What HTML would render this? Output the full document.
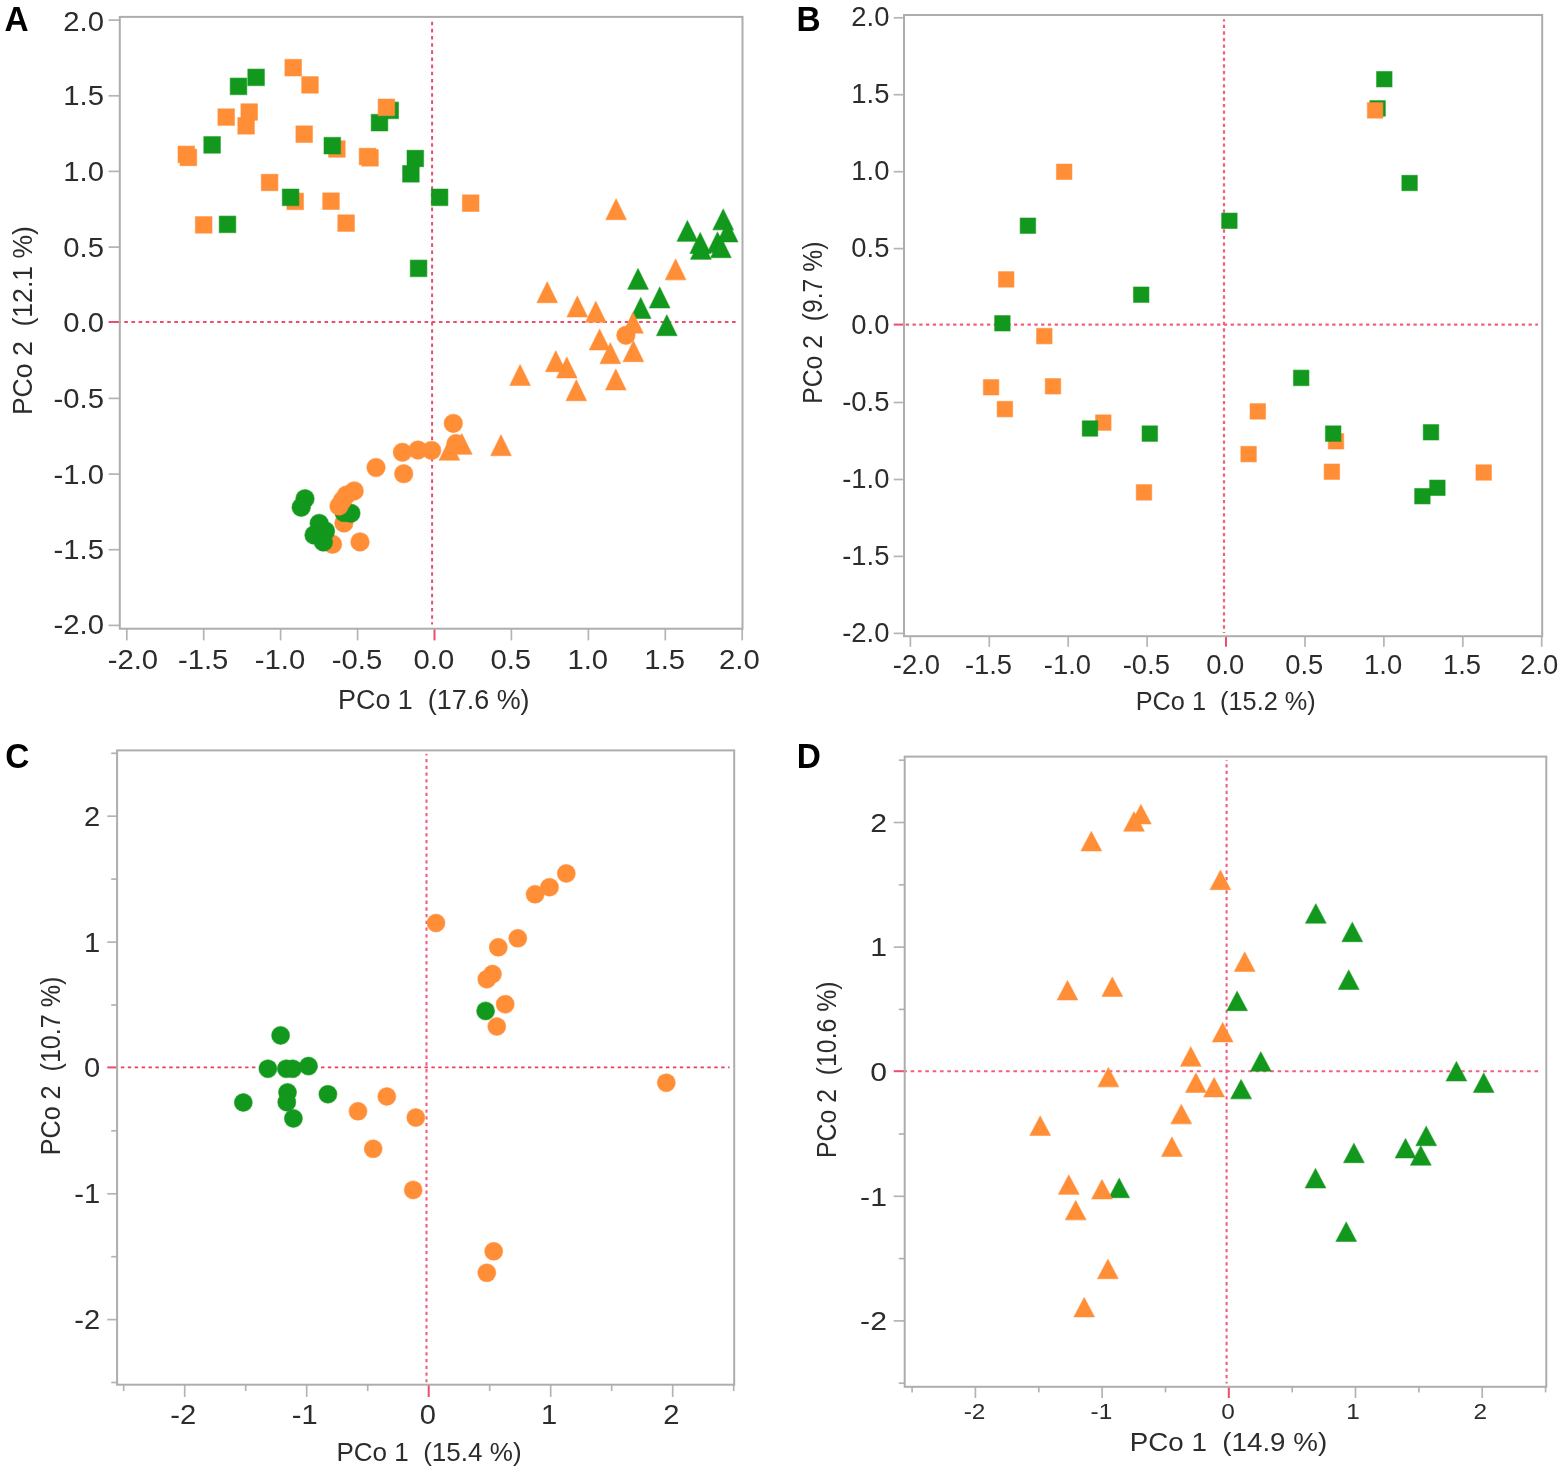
<!DOCTYPE html>
<html lang="en">
<head>
<meta charset="utf-8">
<title>PCoA ordination plots</title>
<style>
html,body{margin:0;padding:0;background:#fff;}
body{width:1566px;height:1479px;overflow:hidden;}
svg{display:block;font-family:"Liberation Sans", Arial, sans-serif;}
</style>
</head>
<body>
<svg width="1566" height="1479" viewBox="0 0 1566 1479">
<rect x="0" y="0" width="1566" height="1479" fill="#ffffff"/>
<g>
<line x1="432.1" y1="21.7" x2="432.1" y2="624.5" stroke="#ee4c6c" stroke-width="2.0" stroke-dasharray="3.6 3.55" stroke-dashoffset="0"/>
<line x1="119.6" y1="322.0" x2="737.8" y2="322.0" stroke="#ee4c6c" stroke-width="1.8" stroke-dasharray="3.6 3.55" stroke-dashoffset="2.45"/>
<line x1="108.6" y1="20.1" x2="119.8" y2="20.1" stroke="#b4b4b4" stroke-width="1.7"/>
<line x1="108.6" y1="95.8" x2="119.8" y2="95.8" stroke="#b4b4b4" stroke-width="1.7"/>
<line x1="108.6" y1="171.4" x2="119.8" y2="171.4" stroke="#b4b4b4" stroke-width="1.7"/>
<line x1="108.6" y1="247.1" x2="119.8" y2="247.1" stroke="#b4b4b4" stroke-width="1.7"/>
<line x1="108.6" y1="322.0" x2="119.8" y2="322.0" stroke="#ee4c6c" stroke-width="2.0"/>
<line x1="108.6" y1="398.4" x2="119.8" y2="398.4" stroke="#b4b4b4" stroke-width="1.7"/>
<line x1="108.6" y1="474.1" x2="119.8" y2="474.1" stroke="#b4b4b4" stroke-width="1.7"/>
<line x1="108.6" y1="549.7" x2="119.8" y2="549.7" stroke="#b4b4b4" stroke-width="1.7"/>
<line x1="108.6" y1="625.4" x2="119.8" y2="625.4" stroke="#b4b4b4" stroke-width="1.7"/>
<line x1="742.2" y1="628.7" x2="742.2" y2="640.4" stroke="#b4b4b4" stroke-width="1.7"/>
<line x1="665.3" y1="628.7" x2="665.3" y2="640.4" stroke="#b4b4b4" stroke-width="1.7"/>
<line x1="588.4" y1="628.7" x2="588.4" y2="640.4" stroke="#b4b4b4" stroke-width="1.7"/>
<line x1="511.4" y1="628.7" x2="511.4" y2="640.4" stroke="#b4b4b4" stroke-width="1.7"/>
<line x1="434.5" y1="628.7" x2="434.5" y2="640.4" stroke="#ee4c6c" stroke-width="2.0"/>
<line x1="357.6" y1="628.7" x2="357.6" y2="640.4" stroke="#b4b4b4" stroke-width="1.7"/>
<line x1="280.6" y1="628.7" x2="280.6" y2="640.4" stroke="#b4b4b4" stroke-width="1.7"/>
<line x1="203.7" y1="628.7" x2="203.7" y2="640.4" stroke="#b4b4b4" stroke-width="1.7"/>
<line x1="126.8" y1="628.7" x2="126.8" y2="640.4" stroke="#b4b4b4" stroke-width="1.7"/>
<rect x="119.8" y="16.9" width="622.7" height="611.8" fill="none" stroke="#adadad" stroke-width="2.0"/>
<g stroke-width="1.1" stroke-opacity="0.5" stroke-linejoin="round">
<rect x="328.60" y="140.70" width="16.60" height="16.60" fill="#FF8E37" stroke="#FF8E37"/>
<rect x="286.90" y="193.10" width="16.60" height="16.60" fill="#FF8E37" stroke="#FF8E37"/>
<rect x="284.90" y="59.40" width="16.60" height="16.60" fill="#FF8E37" stroke="#FF8E37"/>
<rect x="301.70" y="76.60" width="16.60" height="16.60" fill="#FF8E37" stroke="#FF8E37"/>
<rect x="217.90" y="108.80" width="16.60" height="16.60" fill="#FF8E37" stroke="#FF8E37"/>
<rect x="240.90" y="103.70" width="16.60" height="16.60" fill="#FF8E37" stroke="#FF8E37"/>
<rect x="237.80" y="117.50" width="16.60" height="16.60" fill="#FF8E37" stroke="#FF8E37"/>
<rect x="295.90" y="125.90" width="16.60" height="16.60" fill="#FF8E37" stroke="#FF8E37"/>
<rect x="178.00" y="146.10" width="16.60" height="16.60" fill="#FF8E37" stroke="#FF8E37"/>
<rect x="180.10" y="149.20" width="16.60" height="16.60" fill="#FF8E37" stroke="#FF8E37"/>
<rect x="359.20" y="148.20" width="16.60" height="16.60" fill="#FF8E37" stroke="#FF8E37"/>
<rect x="361.70" y="149.50" width="16.60" height="16.60" fill="#FF8E37" stroke="#FF8E37"/>
<rect x="261.30" y="174.20" width="16.60" height="16.60" fill="#FF8E37" stroke="#FF8E37"/>
<rect x="322.70" y="192.90" width="16.60" height="16.60" fill="#FF8E37" stroke="#FF8E37"/>
<rect x="195.40" y="216.60" width="16.60" height="16.60" fill="#FF8E37" stroke="#FF8E37"/>
<rect x="337.80" y="214.80" width="16.60" height="16.60" fill="#FF8E37" stroke="#FF8E37"/>
<rect x="462.40" y="194.90" width="16.60" height="16.60" fill="#FF8E37" stroke="#FF8E37"/>
<rect x="381.90" y="102.10" width="16.60" height="16.60" fill="#12981C" stroke="#12981C"/>
<rect x="371.20" y="114.40" width="16.60" height="16.60" fill="#12981C" stroke="#12981C"/>
<rect x="230.20" y="78.10" width="16.60" height="16.60" fill="#12981C" stroke="#12981C"/>
<rect x="247.80" y="69.10" width="16.60" height="16.60" fill="#12981C" stroke="#12981C"/>
<rect x="203.80" y="136.60" width="16.60" height="16.60" fill="#12981C" stroke="#12981C"/>
<rect x="324.00" y="137.40" width="16.60" height="16.60" fill="#12981C" stroke="#12981C"/>
<rect x="282.30" y="189.00" width="16.60" height="16.60" fill="#12981C" stroke="#12981C"/>
<rect x="219.20" y="216.10" width="16.60" height="16.60" fill="#12981C" stroke="#12981C"/>
<rect x="407.00" y="150.20" width="16.60" height="16.60" fill="#12981C" stroke="#12981C"/>
<rect x="402.60" y="165.50" width="16.60" height="16.60" fill="#12981C" stroke="#12981C"/>
<rect x="431.30" y="189.00" width="16.60" height="16.60" fill="#12981C" stroke="#12981C"/>
<rect x="410.30" y="260.10" width="16.60" height="16.60" fill="#12981C" stroke="#12981C"/>
<rect x="378.10" y="99.00" width="16.60" height="16.60" fill="#FF8E37" stroke="#FF8E37"/>
<path d="M640.7 297.5L651.00 318.45L630.40 318.45Z" fill="#12981C" stroke="#12981C"/>
<path d="M723.2 208.9L733.50 229.85L712.90 229.85Z" fill="#12981C" stroke="#12981C"/>
<path d="M687.4 220.4L697.70 241.35L677.10 241.35Z" fill="#12981C" stroke="#12981C"/>
<path d="M727.7 221.1L738.00 242.05L717.40 242.05Z" fill="#12981C" stroke="#12981C"/>
<path d="M700.2 232.6L710.50 253.55L689.90 253.55Z" fill="#12981C" stroke="#12981C"/>
<path d="M700.9 238.4L711.20 259.35L690.60 259.35Z" fill="#12981C" stroke="#12981C"/>
<path d="M717.5 231.9L727.80 252.85L707.20 252.85Z" fill="#12981C" stroke="#12981C"/>
<path d="M720.9 236.8L731.20 257.75L710.60 257.75Z" fill="#12981C" stroke="#12981C"/>
<path d="M638.0 268.4L648.30 289.35L627.70 289.35Z" fill="#12981C" stroke="#12981C"/>
<path d="M659.7 287.1L670.00 308.05L649.40 308.05Z" fill="#12981C" stroke="#12981C"/>
<path d="M666.8 314.8L677.10 335.75L656.50 335.75Z" fill="#12981C" stroke="#12981C"/>
<path d="M616.1 198.8L626.40 219.75L605.80 219.75Z" fill="#FF8E37" stroke="#FF8E37"/>
<path d="M675.6 258.9L685.90 279.85L665.30 279.85Z" fill="#FF8E37" stroke="#FF8E37"/>
<path d="M547.2 281.7L557.50 302.65L536.90 302.65Z" fill="#FF8E37" stroke="#FF8E37"/>
<path d="M577.3 296.1L587.60 317.05L567.00 317.05Z" fill="#FF8E37" stroke="#FF8E37"/>
<path d="M595.8 301.3L606.10 322.25L585.50 322.25Z" fill="#FF8E37" stroke="#FF8E37"/>
<path d="M633.0 312.3L643.30 333.25L622.70 333.25Z" fill="#FF8E37" stroke="#FF8E37"/>
<path d="M599.6 329.0L609.90 349.95L589.30 349.95Z" fill="#FF8E37" stroke="#FF8E37"/>
<path d="M610.3 342.8L620.60 363.75L600.00 363.75Z" fill="#FF8E37" stroke="#FF8E37"/>
<path d="M633.4 340.7L643.70 361.65L623.10 361.65Z" fill="#FF8E37" stroke="#FF8E37"/>
<path d="M555.8 350.7L566.10 371.65L545.50 371.65Z" fill="#FF8E37" stroke="#FF8E37"/>
<path d="M566.8 357.0L577.10 377.95L556.50 377.95Z" fill="#FF8E37" stroke="#FF8E37"/>
<path d="M520.1 364.5L530.40 385.45L509.80 385.45Z" fill="#FF8E37" stroke="#FF8E37"/>
<path d="M615.8 369.1L626.10 390.05L605.50 390.05Z" fill="#FF8E37" stroke="#FF8E37"/>
<path d="M576.3 379.7L586.60 400.65L566.00 400.65Z" fill="#FF8E37" stroke="#FF8E37"/>
<path d="M461.8 433.4L472.10 454.35L451.50 454.35Z" fill="#FF8E37" stroke="#FF8E37"/>
<path d="M449.4 439.2L459.70 460.15L439.10 460.15Z" fill="#FF8E37" stroke="#FF8E37"/>
<path d="M501.0 434.8L511.30 455.75L490.70 455.75Z" fill="#FF8E37" stroke="#FF8E37"/>
<circle cx="343.9" cy="523.0" r="9.25" fill="#FF8E37" stroke="#FF8E37"/>
<circle cx="332.5" cy="544.2" r="9.25" fill="#FF8E37" stroke="#FF8E37"/>
<circle cx="456.0" cy="443.6" r="9.25" fill="#FF8E37" stroke="#FF8E37"/>
<circle cx="305.0" cy="498.7" r="9.25" fill="#12981C" stroke="#12981C"/>
<circle cx="301.2" cy="507.2" r="9.25" fill="#12981C" stroke="#12981C"/>
<circle cx="350.9" cy="513.2" r="9.25" fill="#12981C" stroke="#12981C"/>
<circle cx="344.0" cy="512.5" r="9.25" fill="#12981C" stroke="#12981C"/>
<circle cx="319.2" cy="523.4" r="9.25" fill="#12981C" stroke="#12981C"/>
<circle cx="325.5" cy="531.0" r="9.25" fill="#12981C" stroke="#12981C"/>
<circle cx="314.0" cy="535.0" r="9.25" fill="#12981C" stroke="#12981C"/>
<circle cx="323.4" cy="542.0" r="9.25" fill="#12981C" stroke="#12981C"/>
<circle cx="625.9" cy="335.2" r="9.25" fill="#FF8E37" stroke="#FF8E37"/>
<circle cx="453.3" cy="423.4" r="9.25" fill="#FF8E37" stroke="#FF8E37"/>
<circle cx="402.4" cy="452.3" r="9.25" fill="#FF8E37" stroke="#FF8E37"/>
<circle cx="418.0" cy="450.0" r="9.25" fill="#FF8E37" stroke="#FF8E37"/>
<circle cx="431.6" cy="450.4" r="9.25" fill="#FF8E37" stroke="#FF8E37"/>
<circle cx="376.0" cy="467.5" r="9.25" fill="#FF8E37" stroke="#FF8E37"/>
<circle cx="403.7" cy="473.7" r="9.25" fill="#FF8E37" stroke="#FF8E37"/>
<circle cx="354.2" cy="490.9" r="9.25" fill="#FF8E37" stroke="#FF8E37"/>
<circle cx="346.4" cy="495.1" r="9.25" fill="#FF8E37" stroke="#FF8E37"/>
<circle cx="342.6" cy="500.3" r="9.25" fill="#FF8E37" stroke="#FF8E37"/>
<circle cx="339.0" cy="506.0" r="9.25" fill="#FF8E37" stroke="#FF8E37"/>
<circle cx="360.0" cy="541.9" r="9.25" fill="#FF8E37" stroke="#FF8E37"/>
</g>
<text transform="translate(104.0 30.6) scale(1.035 1)" x="0" y="0" font-size="28.3" text-anchor="end" fill="#2c2c2c" xml:space="preserve">2.0</text>
<text transform="translate(104.0 105.3) scale(1.035 1)" x="0" y="0" font-size="28.3" text-anchor="end" fill="#2c2c2c" xml:space="preserve">1.5</text>
<text transform="translate(104.0 180.9) scale(1.035 1)" x="0" y="0" font-size="28.3" text-anchor="end" fill="#2c2c2c" xml:space="preserve">1.0</text>
<text transform="translate(104.0 256.6) scale(1.035 1)" x="0" y="0" font-size="28.3" text-anchor="end" fill="#2c2c2c" xml:space="preserve">0.5</text>
<text transform="translate(104.0 332.2) scale(1.035 1)" x="0" y="0" font-size="28.3" text-anchor="end" fill="#2c2c2c" xml:space="preserve">0.0</text>
<text transform="translate(104.0 407.9) scale(1.035 1)" x="0" y="0" font-size="28.3" text-anchor="end" fill="#2c2c2c" xml:space="preserve">-0.5</text>
<text transform="translate(104.0 483.6) scale(1.035 1)" x="0" y="0" font-size="28.3" text-anchor="end" fill="#2c2c2c" xml:space="preserve">-1.0</text>
<text transform="translate(104.0 559.2) scale(1.035 1)" x="0" y="0" font-size="28.3" text-anchor="end" fill="#2c2c2c" xml:space="preserve">-1.5</text>
<text transform="translate(104.0 633.6) scale(1.035 1)" x="0" y="0" font-size="28.3" text-anchor="end" fill="#2c2c2c" xml:space="preserve">-2.0</text>
<text transform="translate(739.4 669.3) scale(1.035 1)" x="0" y="0" font-size="28.3" text-anchor="middle" fill="#2c2c2c" xml:space="preserve">2.0</text>
<text transform="translate(664.7 669.3) scale(1.035 1)" x="0" y="0" font-size="28.3" text-anchor="middle" fill="#2c2c2c" xml:space="preserve">1.5</text>
<text transform="translate(587.8 669.3) scale(1.035 1)" x="0" y="0" font-size="28.3" text-anchor="middle" fill="#2c2c2c" xml:space="preserve">1.0</text>
<text transform="translate(510.8 669.3) scale(1.035 1)" x="0" y="0" font-size="28.3" text-anchor="middle" fill="#2c2c2c" xml:space="preserve">0.5</text>
<text transform="translate(433.9 669.3) scale(1.035 1)" x="0" y="0" font-size="28.3" text-anchor="middle" fill="#2c2c2c" xml:space="preserve">0.0</text>
<text transform="translate(357.0 669.3) scale(1.035 1)" x="0" y="0" font-size="28.3" text-anchor="middle" fill="#2c2c2c" xml:space="preserve">-0.5</text>
<text transform="translate(280.0 669.3) scale(1.035 1)" x="0" y="0" font-size="28.3" text-anchor="middle" fill="#2c2c2c" xml:space="preserve">-1.0</text>
<text transform="translate(203.1 669.3) scale(1.035 1)" x="0" y="0" font-size="28.3" text-anchor="middle" fill="#2c2c2c" xml:space="preserve">-1.5</text>
<text transform="translate(132.9 669.3) scale(1.035 1)" x="0" y="0" font-size="28.3" text-anchor="middle" fill="#2c2c2c" xml:space="preserve">-2.0</text>
<text x="433.8" y="708.9" font-size="27" text-anchor="middle" fill="#2c2c2c" textLength="191.6" lengthAdjust="spacingAndGlyphs" xml:space="preserve">PCo 1  (17.6 %)</text>
<text x="32.0" y="320.6" font-size="28.5" text-anchor="middle" fill="#2c2c2c" textLength="189.0" lengthAdjust="spacingAndGlyphs" transform="rotate(-90 32.0 320.6)" xml:space="preserve">PCo 2  (12.1 %)</text>
</g>
<text transform="translate(4.4 30.9) scale(1 1.05)" x="0" y="0" font-size="33.4" text-anchor="start" fill="#000" font-weight="bold" xml:space="preserve">A</text>
<g>
<line x1="1224.0" y1="19.2" x2="1224.0" y2="633.0" stroke="#f0607f" stroke-width="2.2" stroke-dasharray="3.3 3.3" stroke-dashoffset="1.05"/>
<line x1="903.7" y1="324.6" x2="1537.9" y2="324.6" stroke="#f0607f" stroke-width="2.2" stroke-dasharray="3.3 3.47" stroke-dashoffset="4.77"/>
<line x1="893.7" y1="17.8" x2="904.0" y2="17.8" stroke="#b4b4b4" stroke-width="1.7"/>
<line x1="893.7" y1="94.7" x2="904.0" y2="94.7" stroke="#b4b4b4" stroke-width="1.7"/>
<line x1="893.7" y1="171.7" x2="904.0" y2="171.7" stroke="#b4b4b4" stroke-width="1.7"/>
<line x1="893.7" y1="248.6" x2="904.0" y2="248.6" stroke="#b4b4b4" stroke-width="1.7"/>
<line x1="893.7" y1="324.6" x2="904.0" y2="324.6" stroke="#ee4c6c" stroke-width="2.0"/>
<line x1="893.7" y1="402.5" x2="904.0" y2="402.5" stroke="#b4b4b4" stroke-width="1.7"/>
<line x1="893.7" y1="479.5" x2="904.0" y2="479.5" stroke="#b4b4b4" stroke-width="1.7"/>
<line x1="893.7" y1="556.4" x2="904.0" y2="556.4" stroke="#b4b4b4" stroke-width="1.7"/>
<line x1="893.7" y1="633.4" x2="904.0" y2="633.4" stroke="#b4b4b4" stroke-width="1.7"/>
<line x1="1541.7" y1="636.2" x2="1541.7" y2="646.8" stroke="#b4b4b4" stroke-width="1.7"/>
<line x1="1462.8" y1="636.2" x2="1462.8" y2="646.8" stroke="#b4b4b4" stroke-width="1.7"/>
<line x1="1383.9" y1="636.2" x2="1383.9" y2="646.8" stroke="#b4b4b4" stroke-width="1.7"/>
<line x1="1305.0" y1="636.2" x2="1305.0" y2="646.8" stroke="#b4b4b4" stroke-width="1.7"/>
<line x1="1226.0" y1="636.2" x2="1226.0" y2="646.8" stroke="#ee4c6c" stroke-width="2.0"/>
<line x1="1147.1" y1="636.2" x2="1147.1" y2="646.8" stroke="#b4b4b4" stroke-width="1.7"/>
<line x1="1068.2" y1="636.2" x2="1068.2" y2="646.8" stroke="#b4b4b4" stroke-width="1.7"/>
<line x1="989.3" y1="636.2" x2="989.3" y2="646.8" stroke="#b4b4b4" stroke-width="1.7"/>
<line x1="910.4" y1="636.2" x2="910.4" y2="646.8" stroke="#b4b4b4" stroke-width="1.7"/>
<rect x="904.0" y="15.0" width="638.2" height="621.2" fill="none" stroke="#adadad" stroke-width="2.0"/>
<g stroke-width="1.1" stroke-opacity="0.5" stroke-linejoin="round">
<rect x="1369.85" y="100.65" width="15.50" height="15.50" fill="#12981C" stroke="#12981C"/>
<rect x="1056.45" y="164.05" width="15.50" height="15.50" fill="#FF8E37" stroke="#FF8E37"/>
<rect x="998.45" y="271.65" width="15.50" height="15.50" fill="#FF8E37" stroke="#FF8E37"/>
<rect x="1036.55" y="328.35" width="15.50" height="15.50" fill="#FF8E37" stroke="#FF8E37"/>
<rect x="1367.35" y="102.65" width="15.50" height="15.50" fill="#FF8E37" stroke="#FF8E37"/>
<rect x="983.35" y="379.55" width="15.50" height="15.50" fill="#FF8E37" stroke="#FF8E37"/>
<rect x="997.15" y="401.35" width="15.50" height="15.50" fill="#FF8E37" stroke="#FF8E37"/>
<rect x="1045.25" y="378.55" width="15.50" height="15.50" fill="#FF8E37" stroke="#FF8E37"/>
<rect x="1095.55" y="414.85" width="15.50" height="15.50" fill="#FF8E37" stroke="#FF8E37"/>
<rect x="1136.25" y="484.65" width="15.50" height="15.50" fill="#FF8E37" stroke="#FF8E37"/>
<rect x="1250.05" y="403.65" width="15.50" height="15.50" fill="#FF8E37" stroke="#FF8E37"/>
<rect x="1328.25" y="433.55" width="15.50" height="15.50" fill="#FF8E37" stroke="#FF8E37"/>
<rect x="1240.85" y="446.35" width="15.50" height="15.50" fill="#FF8E37" stroke="#FF8E37"/>
<rect x="1324.15" y="463.95" width="15.50" height="15.50" fill="#FF8E37" stroke="#FF8E37"/>
<rect x="1475.95" y="464.75" width="15.50" height="15.50" fill="#FF8E37" stroke="#FF8E37"/>
<rect x="1020.15" y="217.95" width="15.50" height="15.50" fill="#12981C" stroke="#12981C"/>
<rect x="1133.45" y="286.95" width="15.50" height="15.50" fill="#12981C" stroke="#12981C"/>
<rect x="994.65" y="315.55" width="15.50" height="15.50" fill="#12981C" stroke="#12981C"/>
<rect x="1376.55" y="71.45" width="15.50" height="15.50" fill="#12981C" stroke="#12981C"/>
<rect x="1401.85" y="175.25" width="15.50" height="15.50" fill="#12981C" stroke="#12981C"/>
<rect x="1221.65" y="213.05" width="15.50" height="15.50" fill="#12981C" stroke="#12981C"/>
<rect x="1082.25" y="420.75" width="15.50" height="15.50" fill="#12981C" stroke="#12981C"/>
<rect x="1142.05" y="425.85" width="15.50" height="15.50" fill="#12981C" stroke="#12981C"/>
<rect x="1293.45" y="370.15" width="15.50" height="15.50" fill="#12981C" stroke="#12981C"/>
<rect x="1325.45" y="425.85" width="15.50" height="15.50" fill="#12981C" stroke="#12981C"/>
<rect x="1423.25" y="424.55" width="15.50" height="15.50" fill="#12981C" stroke="#12981C"/>
<rect x="1429.65" y="480.05" width="15.50" height="15.50" fill="#12981C" stroke="#12981C"/>
<rect x="1414.65" y="488.45" width="15.50" height="15.50" fill="#12981C" stroke="#12981C"/>
</g>
<text x="889.4" y="26.4" font-size="27.4" text-anchor="end" fill="#2c2c2c" xml:space="preserve">2.0</text>
<text x="889.4" y="103.3" font-size="27.4" text-anchor="end" fill="#2c2c2c" xml:space="preserve">1.5</text>
<text x="889.4" y="180.2" font-size="27.4" text-anchor="end" fill="#2c2c2c" xml:space="preserve">1.0</text>
<text x="889.4" y="257.2" font-size="27.4" text-anchor="end" fill="#2c2c2c" xml:space="preserve">0.5</text>
<text x="889.4" y="334.2" font-size="27.4" text-anchor="end" fill="#2c2c2c" xml:space="preserve">0.0</text>
<text x="889.4" y="411.1" font-size="27.4" text-anchor="end" fill="#2c2c2c" xml:space="preserve">-0.5</text>
<text x="889.4" y="488.1" font-size="27.4" text-anchor="end" fill="#2c2c2c" xml:space="preserve">-1.0</text>
<text x="889.4" y="565.0" font-size="27.4" text-anchor="end" fill="#2c2c2c" xml:space="preserve">-1.5</text>
<text x="889.4" y="642.0" font-size="27.4" text-anchor="end" fill="#2c2c2c" xml:space="preserve">-2.0</text>
<text x="1539.3" y="674.3" font-size="27.4" text-anchor="middle" fill="#2c2c2c" xml:space="preserve">2.0</text>
<text x="1462.0" y="674.3" font-size="27.4" text-anchor="middle" fill="#2c2c2c" xml:space="preserve">1.5</text>
<text x="1383.1" y="674.3" font-size="27.4" text-anchor="middle" fill="#2c2c2c" xml:space="preserve">1.0</text>
<text x="1304.2" y="674.3" font-size="27.4" text-anchor="middle" fill="#2c2c2c" xml:space="preserve">0.5</text>
<text x="1225.2" y="674.3" font-size="27.4" text-anchor="middle" fill="#2c2c2c" xml:space="preserve">0.0</text>
<text x="1146.3" y="674.3" font-size="27.4" text-anchor="middle" fill="#2c2c2c" xml:space="preserve">-0.5</text>
<text x="1067.4" y="674.3" font-size="27.4" text-anchor="middle" fill="#2c2c2c" xml:space="preserve">-1.0</text>
<text x="988.5" y="674.3" font-size="27.4" text-anchor="middle" fill="#2c2c2c" xml:space="preserve">-1.5</text>
<text x="916.4" y="674.3" font-size="27.4" text-anchor="middle" fill="#2c2c2c" xml:space="preserve">-2.0</text>
<text x="1225.7" y="709.6" font-size="25" text-anchor="middle" fill="#2c2c2c" textLength="180.0" lengthAdjust="spacingAndGlyphs" xml:space="preserve">PCo 1  (15.2 %)</text>
<text x="822.2" y="322.7" font-size="28" text-anchor="middle" fill="#2c2c2c" textLength="162.2" lengthAdjust="spacingAndGlyphs" transform="rotate(-90 822.2 322.7)" xml:space="preserve">PCo 2  (9.7 %)</text>
</g>
<text transform="translate(796.5 30.9) scale(1 1.05)" x="0" y="0" font-size="33.4" text-anchor="start" fill="#000" font-weight="bold" xml:space="preserve">B</text>
<g>
<line x1="426.5" y1="753.8" x2="426.5" y2="1382.2" stroke="#f0607f" stroke-width="2.1" stroke-dasharray="3.3 3.44" stroke-dashoffset="1.49"/>
<line x1="117.1" y1="1067.4" x2="729.6" y2="1067.4" stroke="#ea3f5c" stroke-width="1.6" stroke-dasharray="3.4 3.5" stroke-dashoffset="3.1"/>
<line x1="111.2" y1="753.3" x2="117.1" y2="753.3" stroke="#b4b4b4" stroke-width="1.7"/>
<line x1="107.3" y1="816.2" x2="117.1" y2="816.2" stroke="#b4b4b4" stroke-width="1.7"/>
<line x1="111.2" y1="879.1" x2="117.1" y2="879.1" stroke="#b4b4b4" stroke-width="1.7"/>
<line x1="107.3" y1="942.1" x2="117.1" y2="942.1" stroke="#b4b4b4" stroke-width="1.7"/>
<line x1="111.2" y1="1005.0" x2="117.1" y2="1005.0" stroke="#b4b4b4" stroke-width="1.7"/>
<line x1="107.3" y1="1067.4" x2="117.1" y2="1067.4" stroke="#ee4c6c" stroke-width="2.0"/>
<line x1="111.2" y1="1130.8" x2="117.1" y2="1130.8" stroke="#b4b4b4" stroke-width="1.7"/>
<line x1="107.3" y1="1193.8" x2="117.1" y2="1193.8" stroke="#b4b4b4" stroke-width="1.7"/>
<line x1="111.2" y1="1256.7" x2="117.1" y2="1256.7" stroke="#b4b4b4" stroke-width="1.7"/>
<line x1="107.3" y1="1319.6" x2="117.1" y2="1319.6" stroke="#b4b4b4" stroke-width="1.7"/>
<line x1="111.2" y1="1382.5" x2="117.1" y2="1382.5" stroke="#b4b4b4" stroke-width="1.7"/>
<line x1="733.7" y1="1384.7" x2="733.7" y2="1391.1" stroke="#b4b4b4" stroke-width="1.7"/>
<line x1="672.7" y1="1384.7" x2="672.7" y2="1397.0" stroke="#b4b4b4" stroke-width="1.7"/>
<line x1="611.7" y1="1384.7" x2="611.7" y2="1391.1" stroke="#b4b4b4" stroke-width="1.7"/>
<line x1="550.7" y1="1384.7" x2="550.7" y2="1397.0" stroke="#b4b4b4" stroke-width="1.7"/>
<line x1="489.7" y1="1384.7" x2="489.7" y2="1391.1" stroke="#b4b4b4" stroke-width="1.7"/>
<line x1="428.7" y1="1384.7" x2="428.7" y2="1397.0" stroke="#ee4c6c" stroke-width="2.0"/>
<line x1="367.7" y1="1384.7" x2="367.7" y2="1391.1" stroke="#b4b4b4" stroke-width="1.7"/>
<line x1="306.7" y1="1384.7" x2="306.7" y2="1397.0" stroke="#b4b4b4" stroke-width="1.7"/>
<line x1="245.7" y1="1384.7" x2="245.7" y2="1391.1" stroke="#b4b4b4" stroke-width="1.7"/>
<line x1="184.7" y1="1384.7" x2="184.7" y2="1397.0" stroke="#b4b4b4" stroke-width="1.7"/>
<line x1="123.7" y1="1384.7" x2="123.7" y2="1391.1" stroke="#b4b4b4" stroke-width="1.7"/>
<rect x="117.1" y="750.4" width="617.1" height="634.3" fill="none" stroke="#adadad" stroke-width="2.0"/>
<g stroke-width="1.1" stroke-opacity="0.5" stroke-linejoin="round">
<circle cx="280.6" cy="1035.4" r="9.00" fill="#12981C" stroke="#12981C"/>
<circle cx="267.9" cy="1068.7" r="9.00" fill="#12981C" stroke="#12981C"/>
<circle cx="286.3" cy="1068.7" r="9.00" fill="#12981C" stroke="#12981C"/>
<circle cx="292.7" cy="1068.7" r="9.00" fill="#12981C" stroke="#12981C"/>
<circle cx="308.5" cy="1066.1" r="9.00" fill="#12981C" stroke="#12981C"/>
<circle cx="287.5" cy="1092.4" r="9.00" fill="#12981C" stroke="#12981C"/>
<circle cx="327.9" cy="1094.2" r="9.00" fill="#12981C" stroke="#12981C"/>
<circle cx="243.3" cy="1102.5" r="9.00" fill="#12981C" stroke="#12981C"/>
<circle cx="286.8" cy="1102.2" r="9.00" fill="#12981C" stroke="#12981C"/>
<circle cx="293.4" cy="1118.4" r="9.00" fill="#12981C" stroke="#12981C"/>
<circle cx="485.6" cy="1010.9" r="9.00" fill="#12981C" stroke="#12981C"/>
<circle cx="386.8" cy="1096.5" r="9.00" fill="#FF8E37" stroke="#FF8E37"/>
<circle cx="358.0" cy="1111.3" r="9.00" fill="#FF8E37" stroke="#FF8E37"/>
<circle cx="373.2" cy="1148.8" r="9.00" fill="#FF8E37" stroke="#FF8E37"/>
<circle cx="415.8" cy="1117.6" r="9.00" fill="#FF8E37" stroke="#FF8E37"/>
<circle cx="413.2" cy="1189.9" r="9.00" fill="#FF8E37" stroke="#FF8E37"/>
<circle cx="493.7" cy="1251.3" r="9.00" fill="#FF8E37" stroke="#FF8E37"/>
<circle cx="486.8" cy="1272.8" r="9.00" fill="#FF8E37" stroke="#FF8E37"/>
<circle cx="566.3" cy="873.4" r="9.00" fill="#FF8E37" stroke="#FF8E37"/>
<circle cx="549.5" cy="887.2" r="9.00" fill="#FF8E37" stroke="#FF8E37"/>
<circle cx="535.1" cy="894.3" r="9.00" fill="#FF8E37" stroke="#FF8E37"/>
<circle cx="436.0" cy="923.0" r="9.00" fill="#FF8E37" stroke="#FF8E37"/>
<circle cx="517.8" cy="938.3" r="9.00" fill="#FF8E37" stroke="#FF8E37"/>
<circle cx="498.3" cy="947.3" r="9.00" fill="#FF8E37" stroke="#FF8E37"/>
<circle cx="492.5" cy="974.1" r="9.00" fill="#FF8E37" stroke="#FF8E37"/>
<circle cx="486.8" cy="979.2" r="9.00" fill="#FF8E37" stroke="#FF8E37"/>
<circle cx="505.2" cy="1004.2" r="9.00" fill="#FF8E37" stroke="#FF8E37"/>
<circle cx="496.8" cy="1026.5" r="9.00" fill="#FF8E37" stroke="#FF8E37"/>
<circle cx="666.3" cy="1082.7" r="9.00" fill="#FF8E37" stroke="#FF8E37"/>
</g>
<text transform="translate(100.1 825.7) scale(1.04 1)" x="0" y="0" font-size="28.0" text-anchor="end" fill="#2c2c2c" xml:space="preserve">2</text>
<text transform="translate(100.1 951.6) scale(1.04 1)" x="0" y="0" font-size="28.0" text-anchor="end" fill="#2c2c2c" xml:space="preserve">1</text>
<text transform="translate(100.1 1077.4) scale(1.04 1)" x="0" y="0" font-size="28.0" text-anchor="end" fill="#2c2c2c" xml:space="preserve">0</text>
<text transform="translate(100.1 1203.2) scale(1.04 1)" x="0" y="0" font-size="28.0" text-anchor="end" fill="#2c2c2c" xml:space="preserve">-1</text>
<text transform="translate(100.1 1329.1) scale(1.04 1)" x="0" y="0" font-size="28.0" text-anchor="end" fill="#2c2c2c" xml:space="preserve">-2</text>
<text transform="translate(183.3 1424.2) scale(1.04 1)" x="0" y="0" font-size="28.0" text-anchor="middle" fill="#2c2c2c" xml:space="preserve">-2</text>
<text transform="translate(304.8 1424.2) scale(1.04 1)" x="0" y="0" font-size="28.0" text-anchor="middle" fill="#2c2c2c" xml:space="preserve">-1</text>
<text transform="translate(427.9 1424.2) scale(1.04 1)" x="0" y="0" font-size="28.0" text-anchor="middle" fill="#2c2c2c" xml:space="preserve">0</text>
<text transform="translate(549.2 1424.2) scale(1.04 1)" x="0" y="0" font-size="28.0" text-anchor="middle" fill="#2c2c2c" xml:space="preserve">1</text>
<text transform="translate(671.4 1424.2) scale(1.04 1)" x="0" y="0" font-size="28.0" text-anchor="middle" fill="#2c2c2c" xml:space="preserve">2</text>
<text x="429.0" y="1460.9" font-size="26" text-anchor="middle" fill="#2c2c2c" textLength="185.2" lengthAdjust="spacingAndGlyphs" xml:space="preserve">PCo 1  (15.4 %)</text>
<text x="60.4" y="1065.9" font-size="28" text-anchor="middle" fill="#2c2c2c" textLength="178.6" lengthAdjust="spacingAndGlyphs" transform="rotate(-90 60.4 1065.9)" xml:space="preserve">PCo 2  (10.7 %)</text>
</g>
<text transform="translate(5.3 767.5) scale(1 1.05)" x="0" y="0" font-size="33.4" text-anchor="start" fill="#000" font-weight="bold" xml:space="preserve">C</text>
<g>
<line x1="1226.6" y1="759.9" x2="1226.6" y2="1383.4" stroke="#f0607f" stroke-width="2.1" stroke-dasharray="3.3 3.34" stroke-dashoffset="2.37"/>
<line x1="904.7" y1="1071.2" x2="1540.4" y2="1071.2" stroke="#f0607f" stroke-width="2.0" stroke-dasharray="3.6 3.74" stroke-dashoffset="1.42"/>
<line x1="898.8" y1="760.2" x2="904.7" y2="760.2" stroke="#b4b4b4" stroke-width="1.7"/>
<line x1="893.7" y1="822.5" x2="904.7" y2="822.5" stroke="#b4b4b4" stroke-width="1.7"/>
<line x1="898.8" y1="884.8" x2="904.7" y2="884.8" stroke="#b4b4b4" stroke-width="1.7"/>
<line x1="893.7" y1="947.1" x2="904.7" y2="947.1" stroke="#b4b4b4" stroke-width="1.7"/>
<line x1="898.8" y1="1009.4" x2="904.7" y2="1009.4" stroke="#b4b4b4" stroke-width="1.7"/>
<line x1="893.7" y1="1071.2" x2="904.7" y2="1071.2" stroke="#ee4c6c" stroke-width="2.0"/>
<line x1="898.8" y1="1134.0" x2="904.7" y2="1134.0" stroke="#b4b4b4" stroke-width="1.7"/>
<line x1="893.7" y1="1196.3" x2="904.7" y2="1196.3" stroke="#b4b4b4" stroke-width="1.7"/>
<line x1="898.8" y1="1258.6" x2="904.7" y2="1258.6" stroke="#b4b4b4" stroke-width="1.7"/>
<line x1="893.7" y1="1320.9" x2="904.7" y2="1320.9" stroke="#b4b4b4" stroke-width="1.7"/>
<line x1="898.8" y1="1383.2" x2="904.7" y2="1383.2" stroke="#b4b4b4" stroke-width="1.7"/>
<line x1="1545.6" y1="1386.8" x2="1545.6" y2="1392.4" stroke="#b4b4b4" stroke-width="1.7"/>
<line x1="1482.2" y1="1386.8" x2="1482.2" y2="1398.0" stroke="#b4b4b4" stroke-width="1.7"/>
<line x1="1418.9" y1="1386.8" x2="1418.9" y2="1392.4" stroke="#b4b4b4" stroke-width="1.7"/>
<line x1="1355.5" y1="1386.8" x2="1355.5" y2="1398.0" stroke="#b4b4b4" stroke-width="1.7"/>
<line x1="1292.2" y1="1386.8" x2="1292.2" y2="1392.4" stroke="#b4b4b4" stroke-width="1.7"/>
<line x1="1228.8" y1="1386.8" x2="1228.8" y2="1398.0" stroke="#ee4c6c" stroke-width="2.0"/>
<line x1="1165.5" y1="1386.8" x2="1165.5" y2="1392.4" stroke="#b4b4b4" stroke-width="1.7"/>
<line x1="1102.1" y1="1386.8" x2="1102.1" y2="1398.0" stroke="#b4b4b4" stroke-width="1.7"/>
<line x1="1038.8" y1="1386.8" x2="1038.8" y2="1392.4" stroke="#b4b4b4" stroke-width="1.7"/>
<line x1="975.4" y1="1386.8" x2="975.4" y2="1398.0" stroke="#b4b4b4" stroke-width="1.7"/>
<line x1="912.1" y1="1386.8" x2="912.1" y2="1392.4" stroke="#b4b4b4" stroke-width="1.7"/>
<rect x="904.7" y="756.6" width="641.6" height="630.2" fill="none" stroke="#adadad" stroke-width="2.0"/>
<g stroke-width="1.1" stroke-opacity="0.5" stroke-linejoin="round">
<path d="M1119.2 1178.2L1129.55 1197.65L1108.85 1197.65Z" fill="#12981C" stroke="#12981C"/>
<path d="M1140.9 804.6L1151.25 824.05L1130.55 824.05Z" fill="#FF8E37" stroke="#FF8E37"/>
<path d="M1134.0 811.8L1144.35 831.25L1123.65 831.25Z" fill="#FF8E37" stroke="#FF8E37"/>
<path d="M1091.3 831.5L1101.65 850.95L1080.95 850.95Z" fill="#FF8E37" stroke="#FF8E37"/>
<path d="M1067.5 980.5L1077.85 999.95L1057.15 999.95Z" fill="#FF8E37" stroke="#FF8E37"/>
<path d="M1112.3 977.1L1122.65 996.55L1101.95 996.55Z" fill="#FF8E37" stroke="#FF8E37"/>
<path d="M1108.4 1067.4L1118.75 1086.85L1098.05 1086.85Z" fill="#FF8E37" stroke="#FF8E37"/>
<path d="M1220.4 870.3L1230.75 889.75L1210.05 889.75Z" fill="#FF8E37" stroke="#FF8E37"/>
<path d="M1244.7 952.1L1255.05 971.55L1234.35 971.55Z" fill="#FF8E37" stroke="#FF8E37"/>
<path d="M1222.7 1022.6L1233.05 1042.05L1212.35 1042.05Z" fill="#FF8E37" stroke="#FF8E37"/>
<path d="M1190.8 1046.7L1201.15 1066.15L1180.45 1066.15Z" fill="#FF8E37" stroke="#FF8E37"/>
<path d="M1195.9 1073.0L1206.25 1092.45L1185.55 1092.45Z" fill="#FF8E37" stroke="#FF8E37"/>
<path d="M1214.1 1077.6L1224.45 1097.05L1203.75 1097.05Z" fill="#FF8E37" stroke="#FF8E37"/>
<path d="M1181.3 1104.4L1191.65 1123.85L1170.95 1123.85Z" fill="#FF8E37" stroke="#FF8E37"/>
<path d="M1171.9 1137.0L1182.25 1156.45L1161.55 1156.45Z" fill="#FF8E37" stroke="#FF8E37"/>
<path d="M1040.2 1116.1L1050.55 1135.55L1029.85 1135.55Z" fill="#FF8E37" stroke="#FF8E37"/>
<path d="M1068.8 1174.9L1079.15 1194.35L1058.45 1194.35Z" fill="#FF8E37" stroke="#FF8E37"/>
<path d="M1102.0 1179.5L1112.35 1198.95L1091.65 1198.95Z" fill="#FF8E37" stroke="#FF8E37"/>
<path d="M1075.7 1200.4L1086.05 1219.85L1065.35 1219.85Z" fill="#FF8E37" stroke="#FF8E37"/>
<path d="M1107.9 1259.2L1118.25 1278.65L1097.55 1278.65Z" fill="#FF8E37" stroke="#FF8E37"/>
<path d="M1084.2 1297.5L1094.55 1316.95L1073.85 1316.95Z" fill="#FF8E37" stroke="#FF8E37"/>
<path d="M1315.8 903.8L1326.15 923.25L1305.45 923.25Z" fill="#12981C" stroke="#12981C"/>
<path d="M1352.3 922.2L1362.65 941.65L1341.95 941.65Z" fill="#12981C" stroke="#12981C"/>
<path d="M1348.7 970.0L1359.05 989.45L1338.35 989.45Z" fill="#12981C" stroke="#12981C"/>
<path d="M1237.1 991.2L1247.45 1010.65L1226.75 1010.65Z" fill="#12981C" stroke="#12981C"/>
<path d="M1260.8 1051.8L1271.15 1071.25L1250.45 1071.25Z" fill="#12981C" stroke="#12981C"/>
<path d="M1456.4 1061.5L1466.75 1080.95L1446.05 1080.95Z" fill="#12981C" stroke="#12981C"/>
<path d="M1483.7 1073.0L1494.05 1092.45L1473.35 1092.45Z" fill="#12981C" stroke="#12981C"/>
<path d="M1241.1 1079.4L1251.45 1098.85L1230.75 1098.85Z" fill="#12981C" stroke="#12981C"/>
<path d="M1426.2 1126.3L1436.55 1145.75L1415.85 1145.75Z" fill="#12981C" stroke="#12981C"/>
<path d="M1405.5 1138.6L1415.85 1158.05L1395.15 1158.05Z" fill="#12981C" stroke="#12981C"/>
<path d="M1420.8 1145.7L1431.15 1165.15L1410.45 1165.15Z" fill="#12981C" stroke="#12981C"/>
<path d="M1353.9 1143.2L1364.25 1162.65L1343.55 1162.65Z" fill="#12981C" stroke="#12981C"/>
<path d="M1315.5 1168.5L1325.85 1187.95L1305.15 1187.95Z" fill="#12981C" stroke="#12981C"/>
<path d="M1346.2 1222.1L1356.55 1241.55L1335.85 1241.55Z" fill="#12981C" stroke="#12981C"/>
</g>
<text transform="translate(886.9 831.8) scale(1.16 1)" x="0" y="0" font-size="26.0" text-anchor="end" fill="#2c2c2c" xml:space="preserve">2</text>
<text transform="translate(886.9 956.4) scale(1.16 1)" x="0" y="0" font-size="26.0" text-anchor="end" fill="#2c2c2c" xml:space="preserve">1</text>
<text transform="translate(886.9 1081.0) scale(1.16 1)" x="0" y="0" font-size="26.0" text-anchor="end" fill="#2c2c2c" xml:space="preserve">0</text>
<text transform="translate(886.9 1205.6) scale(1.16 1)" x="0" y="0" font-size="26.0" text-anchor="end" fill="#2c2c2c" xml:space="preserve">-1</text>
<text transform="translate(886.9 1330.2) scale(1.16 1)" x="0" y="0" font-size="26.0" text-anchor="end" fill="#2c2c2c" xml:space="preserve">-2</text>
<text transform="translate(974.5 1418.7) scale(1.12 1)" x="0" y="0" font-size="21.8" text-anchor="middle" fill="#2c2c2c" xml:space="preserve">-2</text>
<text transform="translate(1101.4 1418.7) scale(1.12 1)" x="0" y="0" font-size="21.8" text-anchor="middle" fill="#2c2c2c" xml:space="preserve">-1</text>
<text transform="translate(1228.0 1418.7) scale(1.12 1)" x="0" y="0" font-size="21.8" text-anchor="middle" fill="#2c2c2c" xml:space="preserve">0</text>
<text transform="translate(1353.1 1418.7) scale(1.12 1)" x="0" y="0" font-size="21.8" text-anchor="middle" fill="#2c2c2c" xml:space="preserve">1</text>
<text transform="translate(1480.4 1418.7) scale(1.12 1)" x="0" y="0" font-size="21.8" text-anchor="middle" fill="#2c2c2c" xml:space="preserve">2</text>
<text x="1228.5" y="1451.0" font-size="25" text-anchor="middle" fill="#2c2c2c" textLength="197.3" lengthAdjust="spacingAndGlyphs" xml:space="preserve">PCo 1  (14.9 %)</text>
<text x="836.0" y="1069.7" font-size="28.5" text-anchor="middle" fill="#2c2c2c" textLength="176.5" lengthAdjust="spacingAndGlyphs" transform="rotate(-90 836.0 1069.7)" xml:space="preserve">PCo 2  (10.6 %)</text>
</g>
<text transform="translate(796.7 767.6) scale(1 1.05)" x="0" y="0" font-size="33.4" text-anchor="start" fill="#000" font-weight="bold" xml:space="preserve">D</text>
</svg>
</body>
</html>
